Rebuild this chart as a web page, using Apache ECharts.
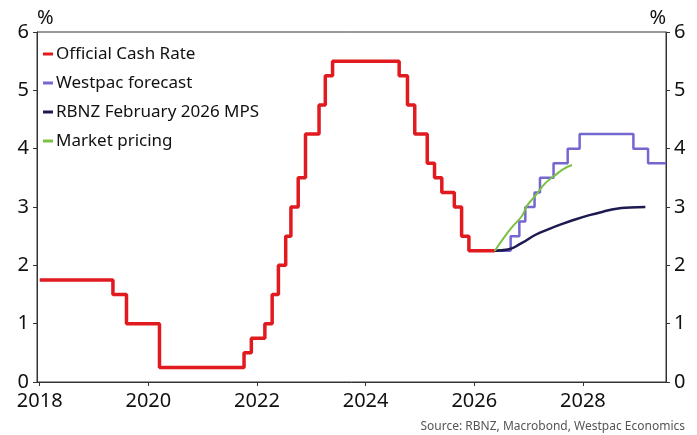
<!DOCTYPE html>
<html>
<head>
<meta charset="utf-8">
<script src="https://cdn.jsdelivr.net/npm/echarts@6/dist/echarts.min.js"></script>
<style>
  html, body { margin: 0; padding: 0; background: #fff; }
  #chart { width: 697px; height: 435px; }
</style>
</head>
<body>
<div id="chart"></div>
<script>
// Official Cash Rate: decision dates and new rate
const ocrDates = ['2018-01-01', '2019-05-08', '2019-08-07', '2020-03-16', '2021-10-06', '2021-11-24',
    '2022-02-23', '2022-04-13', '2022-05-25', '2022-07-13', '2022-08-17', '2022-10-05', '2022-11-23',
    '2023-02-22', '2023-04-05', '2023-05-24', '2024-08-14', '2024-10-09', '2024-11-27', '2025-02-19',
    '2025-04-09', '2025-05-28', '2025-08-20', '2025-10-08', '2025-11-26', '2026-05-19'];
const ocrValues = [1.75, 1.5, 1.0, 0.25, 0.5, 0.75, 1.0, 1.5, 2.0, 2.5, 3.0, 3.5, 4.25,
    4.75, 5.25, 5.5, 5.25, 4.75, 4.25, 3.75, 3.5, 3.25, 3.0, 2.5, 2.25, 2.25];

// Westpac forecast (decimal years)
const wpYears = [2026.38, 2026.67, 2026.83, 2026.94, 2027.11, 2027.21, 2027.46, 2027.72, 2027.94, 2028.93, 2029.2, 2029.53];
const wpValues = [2.25, 2.5, 2.75, 3.0, 3.25, 3.5, 3.75, 4.0, 4.25, 4.0, 3.75, 3.75];

// RBNZ February 2026 MPS track
const mpsYears = [2026.38, 2026.62, 2026.87, 2027.12, 2027.37, 2027.62, 2027.87, 2028.12, 2028.37, 2028.62, 2028.87, 2029.15];
const mpsValues = [2.25, 2.27, 2.38, 2.52, 2.62, 2.71, 2.79, 2.86, 2.92, 2.97, 2.99, 3.0];

// Market pricing
const mktYears = [2026.38, 2026.55, 2026.72, 2026.88, 2026.97, 2027.13, 2027.3, 2027.47, 2027.64, 2027.8];
const mktValues = [2.25, 2.48, 2.68, 2.85, 3.02, 3.2, 3.4, 3.53, 3.65, 3.72];

const yearTicks = [2018, 2020, 2022, 2024, 2026, 2028];
const colors = ['#e01a1f', '#7467cf', '#1d1a4f', '#7bc143'];

function toYear(s) {
    const d = new Date(s + 'T00:00:00Z');
    const y = d.getUTCFullYear();
    const a = Date.UTC(y, 0, 1), b = Date.UTC(y + 1, 0, 1);
    return y + (d.getTime() - a) / (b - a);
}
function pairs(xs, ys) {
    return xs.map((x, i) => [x, ys[i]]);
}

let myChart = echarts.init(document.getElementById('chart'));
const font = '"Noto Sans", "Open Sans", sans-serif';
const axisColor = '#333';

let option = {
    animation: false,
    backgroundColor: '#fff',
    textStyle: { fontFamily: font },
    grid: {
        left: 37, right: 31, top: 32, bottom: 53,
        show: true, borderColor: axisColor, borderWidth: 1
    },
    legend: {
        orient: 'vertical',
        left: 43,
        top: 42,
        padding: 0,
        itemWidth: 10,
        itemHeight: 3,
        itemGap: 5,
        icon: 'rect',
        textStyle: { fontSize: 17, color: '#111', fontFamily: font, lineHeight: 24, padding: [0, 0, 0, -2] },
        data: ['Official Cash Rate', 'Westpac forecast', 'RBNZ February 2026 MPS', 'Market pricing']
    },
    xAxis: {
        type: 'value',
        min: 2017.95,
        max: 2029.53,
        splitLine: { show: false },
        axisLine: { lineStyle: { color: axisColor } },
        axisTick: { show: true, customValues: yearTicks, length: 4, lineStyle: { color: axisColor } },
        axisLabel: {
            customValues: yearTicks,
            fontSize: 20, color: '#111', margin: 9, fontFamily: font,
            formatter: v => String(Math.round(v))
        }
    },
    yAxis: [{
        type: 'value',
        position: 'left',
        min: 0, max: 6, interval: 1,
        name: '%',
        nameGap: 4,
        nameTextStyle: { fontSize: 20, color: '#111', align: 'left', fontFamily: font },
        splitLine: { show: false },
        axisLine: { show: true, lineStyle: { color: axisColor } },
        axisTick: { show: true, length: 4, lineStyle: { color: axisColor } },
        axisLabel: { fontSize: 20, color: '#111', margin: 8, fontFamily: font }
    }, {
        type: 'value',
        position: 'right',
        min: 0, max: 6, interval: 1,
        name: '%',
        nameGap: 4,
        nameTextStyle: { fontSize: 20, color: '#111', align: 'right', fontFamily: font },
        splitLine: { show: false },
        axisLine: { show: true, lineStyle: { color: axisColor } },
        axisTick: { show: true, length: 4, lineStyle: { color: axisColor } },
        axisLabel: { fontSize: 20, color: '#111', margin: 8, fontFamily: font }
    }],
    graphic: [{
        type: 'text',
        right: 12,
        top: 421,
        style: { text: 'Source: RBNZ, Macrobond, Westpac Economics', fontSize: 12, fill: '#555', fontFamily: font }
    }],
    series: [{
        name: 'Official Cash Rate',
        type: 'line',
        step: 'end',
        data: pairs(ocrDates.map(toYear), ocrValues),
        showSymbol: false,
        color: colors[0],
        lineStyle: { width: 3.5, color: colors[0] },
        z: 3
    }, {
        name: 'Westpac forecast',
        type: 'line',
        step: 'end',
        data: pairs(wpYears, wpValues),
        showSymbol: false,
        color: colors[1],
        lineStyle: { width: 2.5, color: colors[1] },
        z: 2
    }, {
        name: 'RBNZ February 2026 MPS',
        type: 'line',
        smooth: true,
        data: pairs(mpsYears, mpsValues),
        showSymbol: false,
        color: colors[2],
        lineStyle: { width: 2.5, color: colors[2] },
        z: 2
    }, {
        name: 'Market pricing',
        type: 'line',
        smooth: true,
        data: pairs(mktYears, mktValues),
        showSymbol: false,
        color: colors[3],
        lineStyle: { width: 2, color: colors[3] },
        z: 4
    }]
};
myChart.setOption(option);
</script>
</body>
</html>
